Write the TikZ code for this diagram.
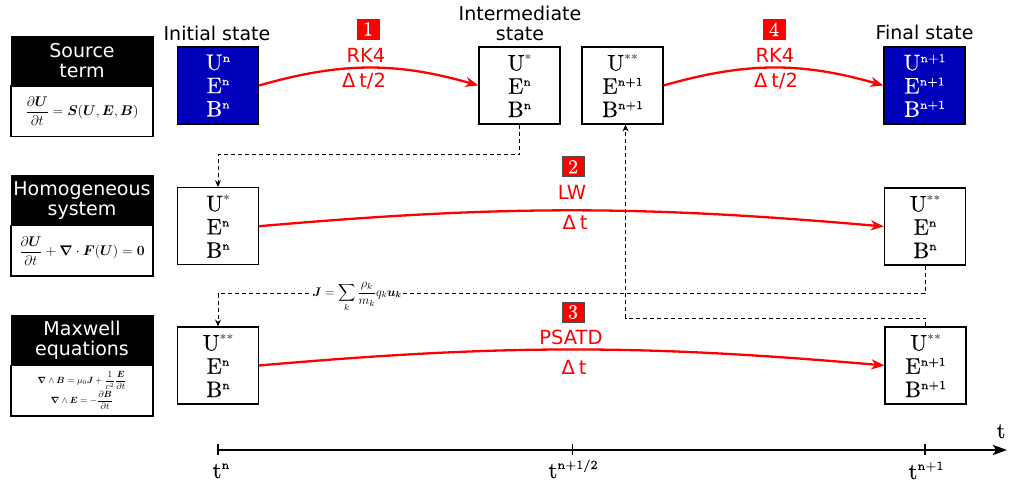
\RequirePackage{fix-cm}
\documentclass[tikz,border=0pt]{standalone}
\usepackage{amsmath,bm}
\usepackage{fontspec}
\newfontfamily\dvs{DejaVu Sans}
\newfontfamily\lmten[FakeBold=0.3]{lmroman10-regular.otf}
\newfontfamily\lmsev[FakeBold=0.1]{lmroman7-regular.otf}
\usetikzlibrary{arrows.meta,calc}
\definecolor{stblue}{RGB}{0,0,187}
\newcommand{\stvar}[2]{#1\raisebox{8pt}{\lmsev\fontsize{12}{12}\selectfont #2}}
\newcommand{\stast}[2]{#1\raisebox{7.5pt}{\lmsev\fontsize{12}{12}\selectfont\textcolor{black!55}{#2}}}
\newcommand{\tvar}[2]{#1\raisebox{9pt}{\lmsev\fontsize{12.5}{13}\selectfont #2}}
\tikzset{
  hdr/.style={draw=black, fill=black, text=white, minimum width=142pt, minimum height=50.5pt, inner sep=0pt, font=\dvs\fontsize{19}{20}\selectfont, align=center},
  eqbox/.style={draw=black, line width=1.2pt, fill=white, minimum width=142pt, minimum height=50.5pt, inner sep=0pt, align=center},
  state/.style={draw=black, line width=1.2pt, fill=white, minimum width=81pt, minimum height=77pt, inner sep=0pt, align=center, font=\lmten\fontsize{22.5}{23.3}\selectfont},
  bluestate/.style={state, fill=stblue, text=white},
  badge/.style={draw=black!70, line width=0.6pt, fill=red, text=white, minimum width=22pt, minimum height=20pt, inner sep=0pt, font=\lmten\fontsize{20}{20}\selectfont},
  redlbl/.style={text=red, font=\dvs\fontsize{19.5}{20}\selectfont, anchor=base, inner sep=0pt},
  toplbl/.style={font=\dvs\fontsize{19}{20}\selectfont, inner sep=0pt, align=center},
  flow/.style={red, line width=2.3pt, -{Stealth[length=13pt,width=10pt,inset=4pt]}},
  dline/.style={line width=1pt, dash pattern=on 4pt off 3pt, -{Stealth[length=7pt,width=6pt,inset=2.5pt]}},
  axisline/.style={line width=2pt, -{Stealth[length=14pt,width=10pt,inset=3pt]}},
  timelbl/.style={anchor=base, inner sep=0pt, font=\lmten\fontsize{23}{24}\selectfont},
}
\begin{document}
\begin{tikzpicture}[x=1pt,y=1pt]
\useasboundingbox (0,0) rectangle (1009,486);

% left description boxes
\node[eqbox] (srce) at (82,375) {\fontsize{14}{16}\selectfont$\displaystyle\frac{\partial\bm{U}}{\partial t}=\bm{S}(\bm{U},\bm{E},\bm{B})$};
\node[hdr] (srch) at (82,425) {Source\\term};
\node[eqbox] (home) at (82,235.25) {\fontsize{14}{16}\selectfont$\displaystyle\frac{\partial\bm{U}}{\partial t}+\bm{\nabla}\cdot\bm{F}(\bm{U})=\bm{0}$};
\node[hdr] (homh) at (82,285.75) {Homogeneous\\system};
\node[eqbox] (maxe) at (82,95.25) {\fontsize{9}{11}\selectfont$\displaystyle\bm{\nabla}\wedge\bm{B}=\mu_0\bm{J}+\frac{1}{c^2}\frac{\bm{E}}{\partial t}$\\[1pt]\fontsize{9}{11}\selectfont$\displaystyle\bm{\nabla}\wedge\bm{E}=-\frac{\partial\bm{B}}{\partial t}$};
\node[hdr] (maxh) at (82,145.75) {Maxwell\\equations};

% top labels
\node[toplbl, anchor=base] (lini) at (217,445) {Initial state};
\node[toplbl, anchor=north] (lint) at (520,479.7) {Intermediate\\state};
\node[toplbl, anchor=base] (lfin) at (924.5,446) {Final state};

% state boxes
\node[bluestate] (s1) at (218,400.5) {\stvar{U}{n}\\\stvar{E}{n}\\\stvar{B}{n}};
\node[state] (s2) at (519.5,400.5) {\stast{U}{*}\\\stvar{E}{n}\\\stvar{B}{n}};
\node[state] (s3) at (622.5,400.5) {\stast{U}{**}\\\stvar{E}{n+1}\\\stvar{B}{n+1}};
\node[bluestate] (s4) at (924.5,400.5) {\stvar{U}{n+1}\\\stvar{E}{n+1}\\\stvar{B}{n+1}};
\node[state] (r2a) at (218,259.8) {\stast{U}{*}\\\stvar{E}{n}\\\stvar{B}{n}};
\node[state] (r2b) at (925,259.5) {\stast{U}{**}\\\stvar{E}{n}\\\stvar{B}{n}};
\node[state] (r3a) at (218,120.5) {\stast{U}{**}\\\stvar{E}{n}\\\stvar{B}{n}};
\node[state] (r3b) at (925.5,120.5) {\stast{U}{**}\\\stvar{E}{n+1}\\\stvar{B}{n+1}};

% dashed connectors
\coordinate (c1) at (218,331);
\coordinate (c2) at (218,192);
\coordinate (c3) at (625.5,167.7);
\draw[dline] (s2.south) |- (c1) -- (r2a.north);
\draw[dline] (r2b.south) |- (c2) -- (r3a.north);
\draw[dline] (r3b.north) |- (c3) -- (c3 |- s3.south);
\node[fill=white, inner sep=1pt, font=\fontsize{12.5}{14}\selectfont] (jlbl) at (357,189) {$\displaystyle\bm{J}=\sum_k\frac{\rho_k}{m_k}q_k\bm{u_k}$};

% red flows
\draw[flow] (s1.east) to[bend left=16] (s2.west);
\draw[flow] (s3.east) to[bend left=16] (s4.west);
\draw[flow] (r2a.east) to[bend left=5] (r2b.west);
\draw[flow] (r3a.east) to[bend left=5] (r3b.west);

% badges and method labels
\node[badge] (b1) at (368,457) {1};
\node[redlbl] (m1) at (366,423.7) {RK4};
\node[redlbl] (d1) at (364,398) {Δ\kern0.2em t/2};
\node[badge] (b4) at (774,456.7) {4};
\node[redlbl] (m4) at (775,423.7) {RK4};
\node[redlbl] (d4) at (776,398.2) {Δ\kern0.2em t/2};
\node[badge] (b2) at (573,319.3) {2};
\node[redlbl] (m2) at (572,286) {LW};
\node[redlbl] (d2) at (575,256) {Δ\kern0.2em t};
\node[badge] (b3) at (573,174) {3};
\node[redlbl] (m3) at (571,141.7) {PSATD};
\node[redlbl] (d3) at (574,111) {Δ\kern0.2em t};

% time axis
\coordinate (tn) at (218,36);
\coordinate (th) at (572.5,36);
\coordinate (tf) at (925,36);
\coordinate (tend) at (1007,36);
\draw[axisline] (tn) -- (tend);
\draw[line width=1.3pt] ($(tn)+(0,5.5)$) -- ($(tn)+(0,-5.5)$);
\draw[line width=1.3pt] ($(th)+(0,5.5)$) -- ($(th)+(0,-5.5)$);
\draw[line width=2.6pt] ($(tf)+(0,5.5)$) -- ($(tf)+(0,-5.5)$);
\node[timelbl] (ltn) at (221,8) {\tvar{t}{n}};
\node[timelbl] (lth) at (573,8) {\tvar{t}{n+1/2}};
\node[timelbl] (ltf) at (926,7) {\tvar{t}{n+1}};
\node[timelbl, font=\lmten\fontsize{22}{24}\selectfont] (lt) at (1001,48) {t};
\end{tikzpicture}
\end{document}
